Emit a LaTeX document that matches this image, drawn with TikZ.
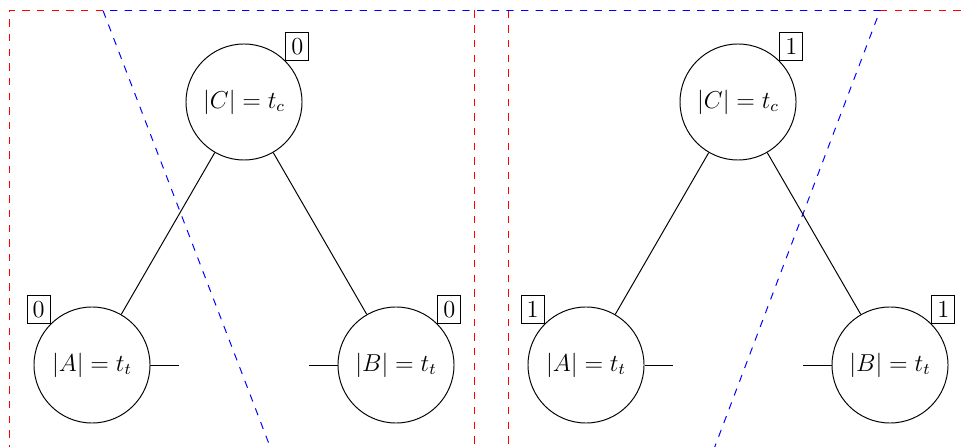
\documentclass[tikz,border=0pt]{standalone}
\begin{document}
\begin{tikzpicture}[x=0.4905pt,y=-0.4905pt,
  line width=0.48pt,
  vert/.style={draw,circle,minimum size=2cm,inner sep=0pt,font=\large},
  tag/.style={draw,inner sep=2.7pt,font=\large},
  redline/.style={red,dash pattern=on 3.6pt off 3.6pt},
  blueline/.style={blue,dash pattern=on 3.6pt off 3.6pt},
  label distance=0pt]
\useasboundingbox (0,0) rectangle (964,447);
\clip (0,0) rectangle (964,447);
% left panel
\draw[redline] (103,10.5) -- (9,10.5) -- (9,470);
\draw[redline] (474.5,10.5) -- (474.5,470);
% right panel
\draw[redline] (508.5,10.5) -- (508.5,470);
\draw[redline] (880,10.5) -- (974,10.5) -- (974,470);
% blue region
\draw[blueline] (279,470) -- (103,10.5) -- (880,10.5) -- (706,470);
% left tree
\node[vert,label={[tag]north east:0}] (C1) at (244,102) {$|C| = t_c$};
\node[vert,label={[tag]north west:0}] (A1) at (92,365) {$|A| = t_t$};
\node[vert,label={[tag]north east:0}] (B1) at (396,365) {$|B| = t_t$};
\coordinate (a1) at (179,365);
\coordinate (b1) at (309,365);
\draw (C1) -- (A1);
\draw (C1) -- (B1);
\draw (A1) -- (a1);
\draw (B1) -- (b1);
% right tree
\node[vert,label={[tag]north east:1}] (C2) at (738,102) {$|C| = t_c$};
\node[vert,label={[tag]north west:1}] (A2) at (586,365) {$|A| = t_t$};
\node[vert,label={[tag]north east:1}] (B2) at (890,365) {$|B| = t_t$};
\coordinate (a2) at (673,365);
\coordinate (b2) at (803,365);
\draw (C2) -- (A2);
\draw (C2) -- (B2);
\draw (A2) -- (a2);
\draw (B2) -- (b2);
\end{tikzpicture}
\end{document}
